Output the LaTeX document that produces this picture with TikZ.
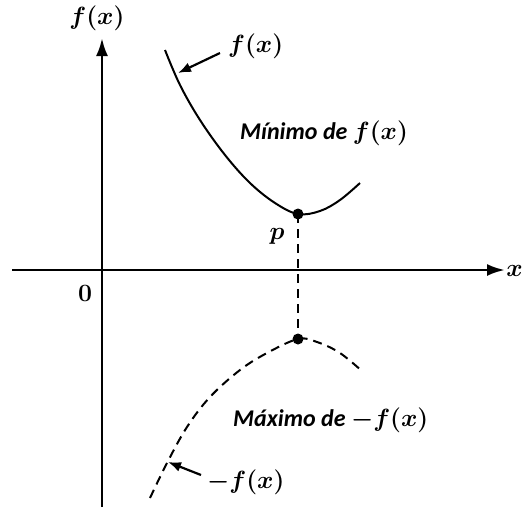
\documentclass[tikz,border=0pt]{standalone}
\usepackage{bm}
\usepackage{fontspec}
\newfontfamily\lblfont{Carlito}
\usetikzlibrary{arrows.meta}
\begin{document}
\begin{tikzpicture}[x=1pt,y=-1pt,
  axis/.style={line width=2.8pt,-{Latex[length=18pt,width=12pt]}},
  curve/.style={line width=2pt},
  dcurve/.style={line width=2pt,dash pattern=on 9pt off 6pt},
  pointer/.style={line width=2.2pt,-{Latex[length=13pt,width=10pt]}},
  mlbl/.style={font=\fontsize{26}{30}\selectfont},
  tlbl/.style={font=\fontsize{24}{28}\selectfont\lblfont\bfseries\itshape},
  dot/.style={circle,fill=black,inner sep=0pt,minimum size=11pt}]
\useasboundingbox (0,0) rectangle (523,507);
% axes
\coordinate (xs) at (12,270);
\coordinate (xe) at (505,270);
\coordinate (ys) at (102,507);
\coordinate (ye) at (102,38);
\draw[axis] (xs) -- (xe);
\draw[axis] (ys) -- (ye);
\node[mlbl,anchor=east,inner sep=0pt] (xl) at (523,271) {$\bm{x}$};
\node[mlbl,inner sep=0pt] (yl) at (97,18) {$\bm{f(x)}$};
\node[mlbl,inner sep=0pt] (zero) at (85,293) {$\bm{0}$};
% curves
\coordinate (pmin) at (298,214);
\coordinate (pmax) at (298,339);
\draw[curve] plot[smooth,tension=0.6] coordinates {(165,50) (180,85) (200,120) (225,155) (250,183) (275,203) (298,214) (320,211) (340,200) (360,183)};
\draw[dcurve] plot[smooth,tension=0.6] coordinates {(150,498) (167,463) (187,427) (210,397) (240,370) (267,353) (298,339) (317,342) (340,353) (363,372)};
\draw[dcurve] (pmin) -- (pmax);
\node[dot] (dmin) at (pmin) {};
\node[dot] (dmax) at (pmax) {};
% labels
\node[mlbl,inner sep=0pt] (p) at (277,236) {$\bm{p}$};
\node[mlbl,anchor=west,inner sep=0pt] (fl) at (228,46) {$\bm{f(x)}$};
\coordinate (fltail) at (220,53);
\coordinate (fltip) at (178,73);
\draw[pointer] (fltail) -- (fltip);
\node[tlbl,anchor=west,inner sep=0pt] (minl) at (240,133) {Mínimo de \fontsize{26}{30}\selectfont$\bm{f(x)}$};
\node[tlbl,anchor=west,inner sep=0pt] (maxl) at (233,420) {Máximo de \fontsize{26}{30}\selectfont$\bm{-f(x)}$};
\node[mlbl,anchor=west,inner sep=0pt] (nfl) at (207,482) {$\bm{-f(x)}$};
\coordinate (nftail) at (201,475);
\coordinate (nftip) at (168,462);
\draw[pointer] (nftail) -- (nftip);
\end{tikzpicture}
\end{document}
